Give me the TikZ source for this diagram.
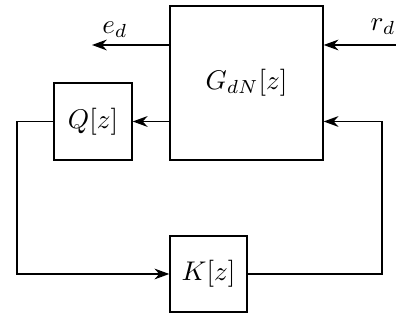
\documentclass[tikz,border=0pt]{standalone}
\usepackage{amsmath}
\usepackage{tikz}
\usetikzlibrary{arrows.meta}

\begin{document}
\begin{tikzpicture}[x=0.37pt, y=0.37pt,
    blk/.style={draw, line width=0.5pt, inner sep=0pt},
    sig/.style={line width=0.5pt, -{Stealth[length=5.5pt, width=4pt]}}]
        \useasboundingbox (0,0) rectangle (396,322);
        % Blocos
        \node[blk, minimum width=56.6pt, minimum height=57pt] (G) at (246.5,239) {$G_{dN}[z]$};
        \node[blk, minimum width=28.9pt, minimum height=28.5pt] (Q) at (93,200.5) {$Q[z]$};
        \node[blk, minimum width=28.5pt, minimum height=28.1pt] (K) at (208.5,48) {$K[z]$};
        % Sinais externos
        \coordinate (ed) at (92,277);
        \coordinate (rd) at (396,277);
        \draw[sig] (G.west |- ed) -- (ed);
        \node at (115,292) {$e_d$};
        \draw[sig] (rd) -- (G.east |- rd);
        \node at (383,295) {$r_d$};
        % Malha
        \draw[sig] (G.west |- Q.east) -- (Q.east);
        \coordinate (ql) at (17,200.5);
        \draw[sig] (Q.west) -- (ql) |- (K.west);
        \coordinate (kr) at (382,48);
        \draw[sig] (K.east) -- (kr) |- (G.east |- Q.east);
    \end{tikzpicture}
\end{document}
